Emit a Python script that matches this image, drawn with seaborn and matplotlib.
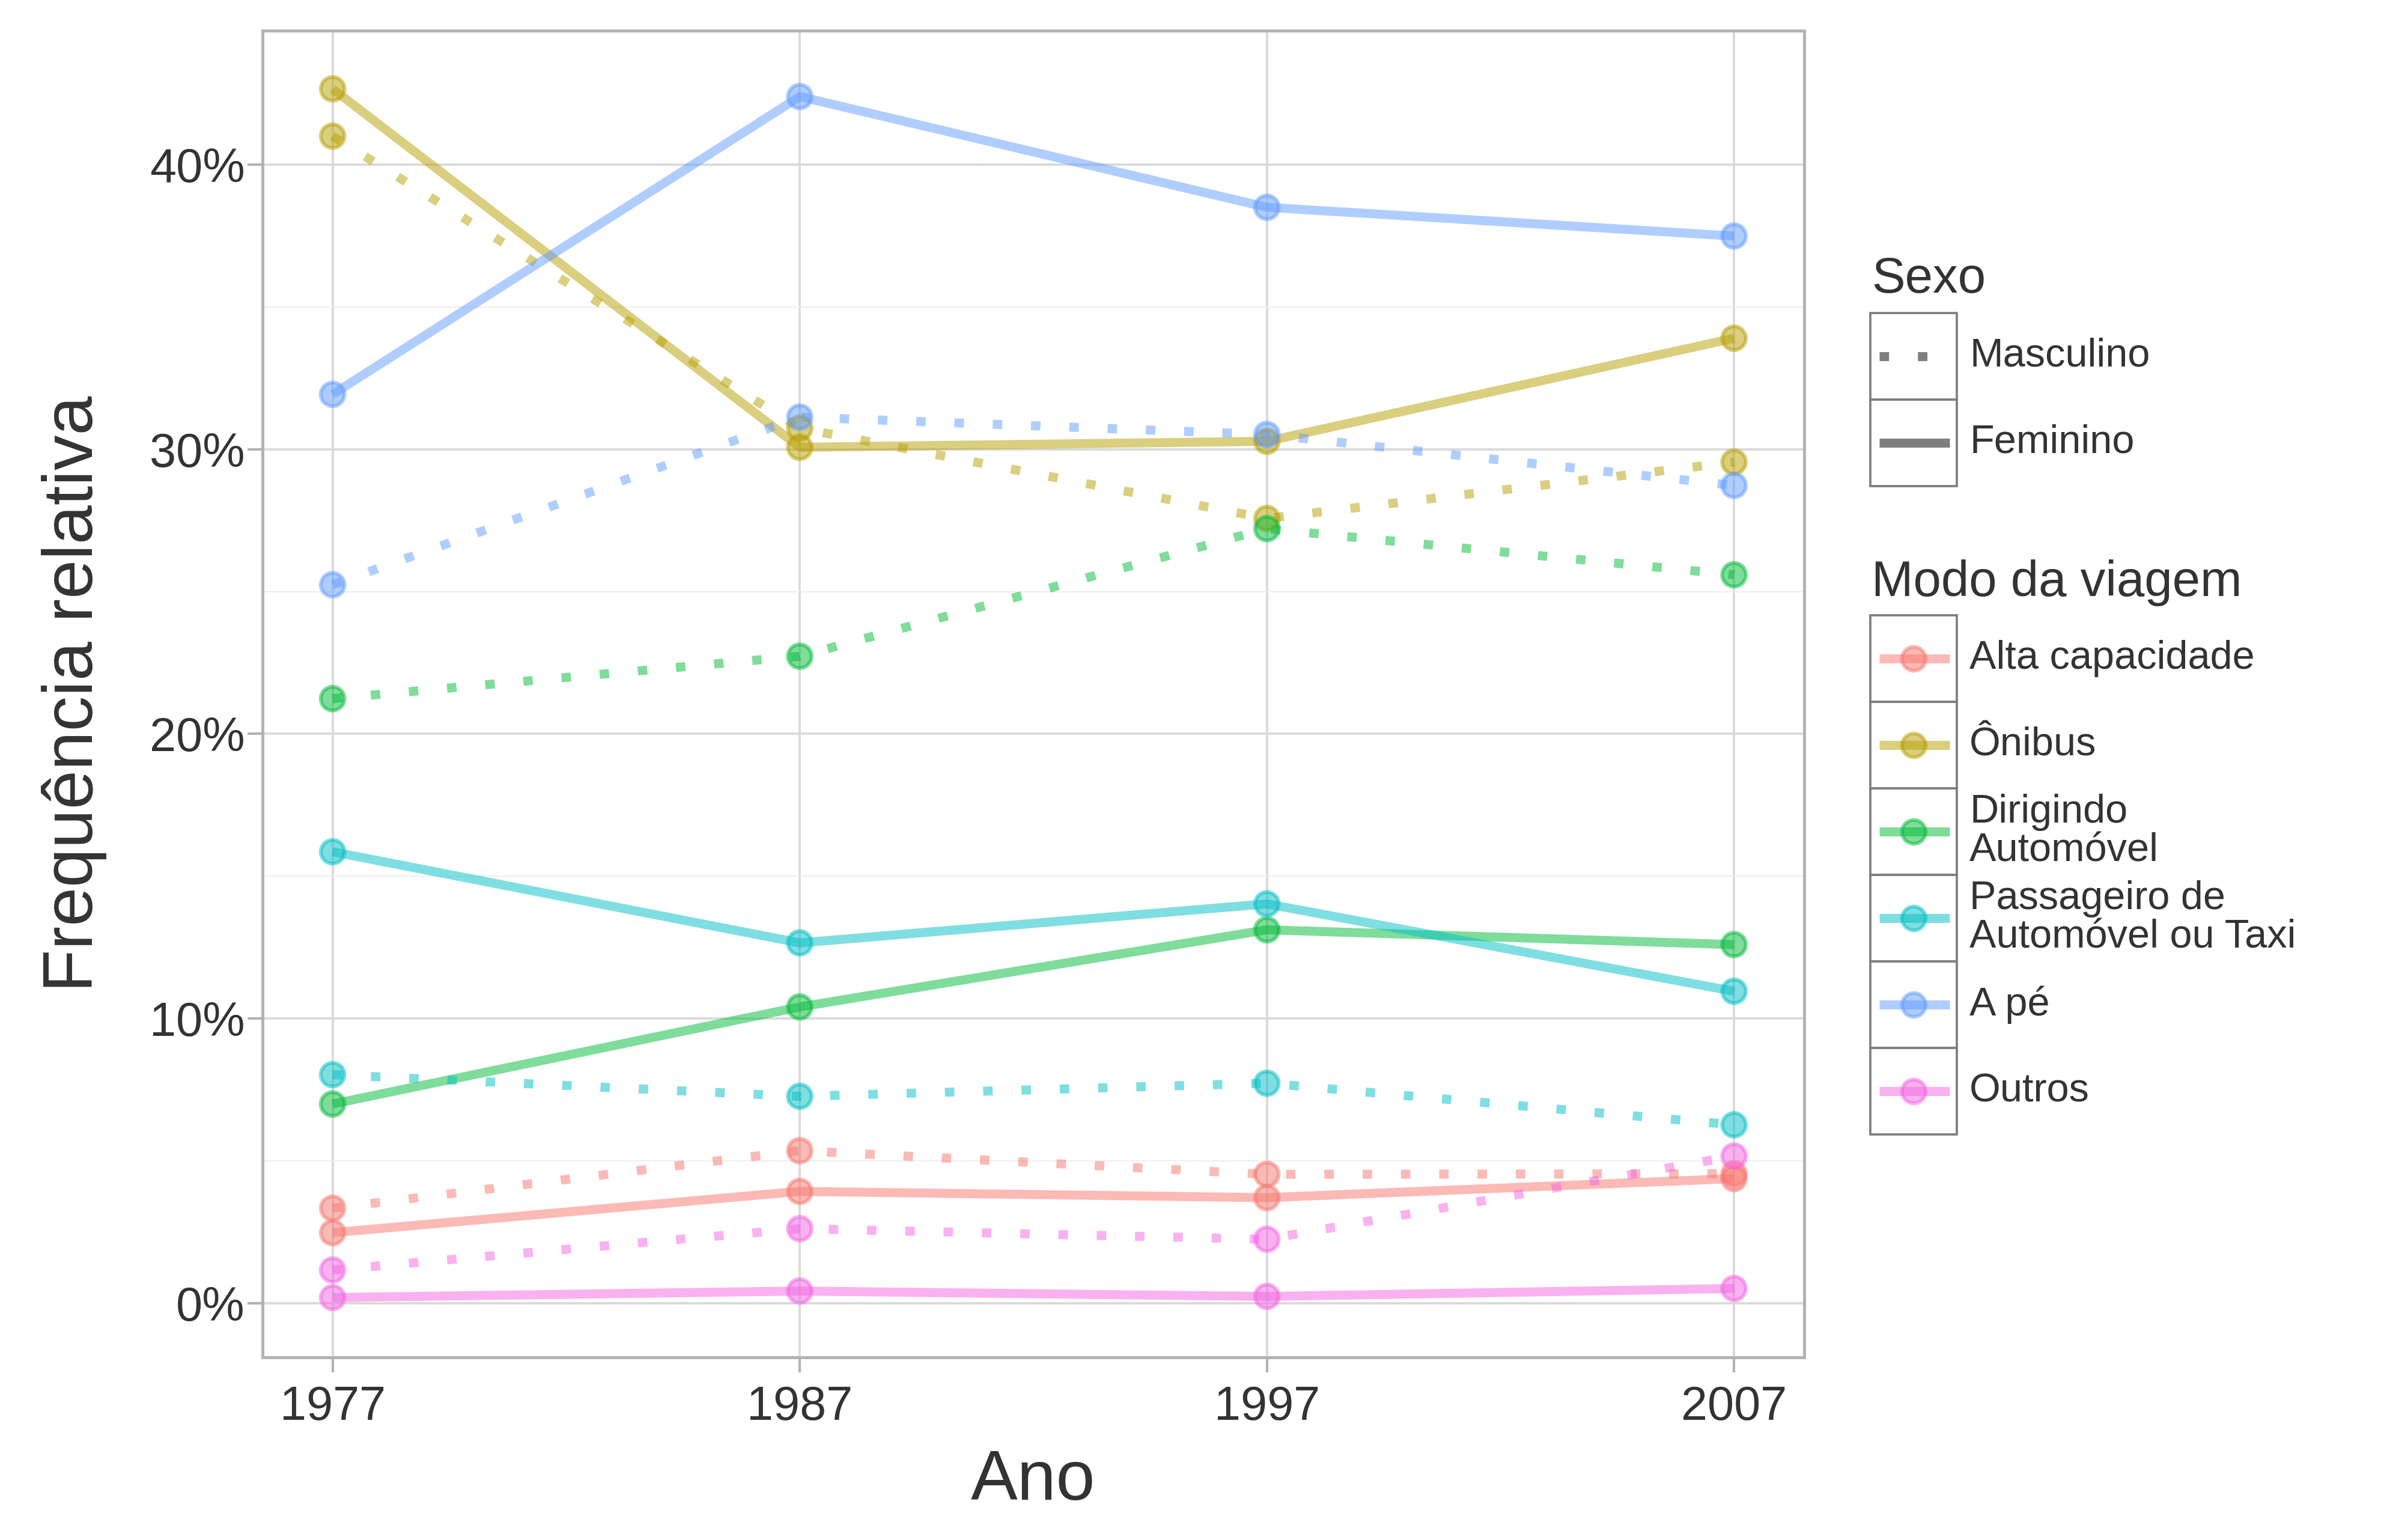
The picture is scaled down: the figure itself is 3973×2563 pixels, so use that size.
import matplotlib
matplotlib.use("Agg")
import matplotlib.pyplot as plt
import pandas as pd
import seaborn as sns
from matplotlib.patches import Rectangle
from matplotlib.ticker import FixedLocator, MultipleLocator, PercentFormatter

W, H, DPI = 3973, 2563, 300

ANOS = [1977, 1987, 1997, 2007]
SEXOS = ["Masculino", "Feminino"]
MODOS = [
    "Alta capacidade",
    "Ônibus",
    "Dirigindo Automóvel",
    "Passageiro de Automóvel ou Taxi",
    "A pé",
    "Outros",
]
MODO_ROTULOS = [
    "Alta capacidade",
    "Ônibus",
    "Dirigindo\nAutomóvel",
    "Passageiro de\nAutomóvel ou Taxi",
    "A pé",
    "Outros",
]

# frequência relativa (%) por ano
ALTA_MASC = [3.34, 5.36, 4.53, 4.55]
ALTA_FEM = [2.48, 3.93, 3.71, 4.38]
ONIBUS_MASC = [41.0, 30.74, 27.57, 29.55]
ONIBUS_FEM = [42.66, 30.07, 30.28, 33.9]
DIRIGINDO_MASC = [21.24, 22.73, 27.21, 25.59]
DIRIGINDO_FEM = [7.0, 10.41, 13.12, 12.6]
PASSAGEIRO_MASC = [8.03, 7.27, 7.73, 6.27]
PASSAGEIRO_FEM = [15.86, 12.66, 14.03, 10.96]
APE_MASC = [25.24, 31.13, 30.52, 28.73]
APE_FEM = [31.93, 42.39, 38.5, 37.49]
OUTROS_MASC = [1.17, 2.62, 2.25, 5.17]
OUTROS_FEM = [0.2, 0.43, 0.24, 0.52]

PALETTE = ["#F8766D", "#B79F00", "#00BA38", "#00BFC4", "#619CFF", "#F564E3"]

LW = 3.6          # line width (pt)
DOTS = (1.05, 3.2)  # dotted pattern, in line widths
TXT = "#333333"
BORDER = "#b3b3b3"

series = {
    ("Alta capacidade", "Masculino"): ALTA_MASC,
    ("Alta capacidade", "Feminino"): ALTA_FEM,
    ("Ônibus", "Masculino"): ONIBUS_MASC,
    ("Ônibus", "Feminino"): ONIBUS_FEM,
    ("Dirigindo Automóvel", "Masculino"): DIRIGINDO_MASC,
    ("Dirigindo Automóvel", "Feminino"): DIRIGINDO_FEM,
    ("Passageiro de Automóvel ou Taxi", "Masculino"): PASSAGEIRO_MASC,
    ("Passageiro de Automóvel ou Taxi", "Feminino"): PASSAGEIRO_FEM,
    ("A pé", "Masculino"): APE_MASC,
    ("A pé", "Feminino"): APE_FEM,
    ("Outros", "Masculino"): OUTROS_MASC,
    ("Outros", "Feminino"): OUTROS_FEM,
}
rows = []
for (modo, sexo), vals in series.items():
    for ano, v in zip(ANOS, vals):
        rows.append({"Ano": ano, "Freq": v, "Modo": modo, "Sexo": sexo})
df = pd.DataFrame(rows)

sns.set_theme(style="white")
plt.rcParams["font.family"] = ["Liberation Sans", "DejaVu Sans"]
plt.rcParams["text.color"] = TXT

fig = plt.figure(figsize=(W / DPI, H / DPI), dpi=DPI)
ax = fig.add_axes([0.110, 0.1186, 0.6458, 0.8614])

sns.lineplot(
    data=df, x="Ano", y="Freq", hue="Modo", style="Sexo",
    hue_order=MODOS, style_order=SEXOS, palette=PALETTE,
    dashes={"Masculino": DOTS, "Feminino": ""},
    lw=LW, alpha=0.5, estimator=None, legend=False, ax=ax, zorder=2,
)
for ln in ax.lines:
    ln.set_solid_capstyle("butt")
    ln.set_dash_capstyle("butt")
    ln.set_solid_joinstyle("round")

sns.scatterplot(
    data=df, x="Ano", y="Freq", hue="Modo", hue_order=MODOS, palette=PALETTE,
    s=90, alpha=0.5, linewidth=1.5, edgecolor="face", legend=False, ax=ax, zorder=3,
)

ax.set_xlim(1975.5, 2008.5)
ax.set_ylim(-1.9, 44.7)
ax.xaxis.set_major_locator(FixedLocator(ANOS))
ax.yaxis.set_major_locator(MultipleLocator(10))
ax.yaxis.set_minor_locator(MultipleLocator(5))
ax.yaxis.set_major_formatter(PercentFormatter(100, decimals=0))

ax.grid(which="major", color="#d9d9d9", lw=0.9)
ax.grid(which="minor", axis="y", color="#ededed", lw=0.45)
ax.set_axisbelow(True)
for sp in ax.spines.values():
    sp.set_color(BORDER)
    sp.set_linewidth(1.2)

ax.tick_params(axis="both", which="major", length=6, width=1.0, color=BORDER,
               labelsize=19, labelcolor=TXT)
ax.tick_params(axis="x", pad=5)
ax.tick_params(axis="y", pad=1)
ax.tick_params(which="minor", length=0)
ax.tick_params(bottom=True, left=True)

ax.set_xlabel("Ano", fontsize=28, color=TXT)
ax.set_ylabel("Frequência relativa", fontsize=28, color=TXT)
ax.xaxis.set_label_coords(0.5, -0.069)
ax.yaxis.set_label_coords(-0.101, 0.5)

# legend drawn by hand in figure pixels, ggplot style key boxes
lax = fig.add_axes([0, 0, 1, 1])
lax.set_xlim(0, W)
lax.set_ylim(H, 0)
lax.axis("off")

KX, KS = 3113, 144
LX = 3278

lax.text(KX + 2, 487, "Sexo", fontsize=20, va="baseline", color=TXT)
for i, sexo in enumerate(SEXOS):
    top = 521 + i * KS
    cy = top + KS / 2
    lax.add_patch(Rectangle((KX, top), KS, KS, fill=False, ec="#7f7f7f", lw=0.9))
    ls = (0, DOTS) if sexo == "Masculino" else "-"
    lax.plot([KX + 15, KX + KS - 12], [cy, cy], color="#7f7f7f", lw=LW, ls=ls,
             solid_capstyle="butt", dash_capstyle="butt")
    lax.text(LX, cy, sexo, fontsize=16, va="center", color=TXT)

lax.text(KX + 2, 992, "Modo da viagem", fontsize=20, va="baseline", color=TXT)
for i, (rotulo, cor) in enumerate(zip(MODO_ROTULOS, PALETTE)):
    top = 1024 + i * KS
    cy = top + KS / 2
    lax.add_patch(Rectangle((KX, top), KS, KS, fill=False, ec="#7f7f7f", lw=0.9))
    lax.plot([KX + 15, KX + KS - 12], [cy, cy], color=cor, lw=LW, alpha=0.5,
             solid_capstyle="butt")
    lax.scatter([KX + KS / 2], [cy], s=90, color=cor, alpha=0.5, lw=1.5,
                edgecolor="face", zorder=3)
    lax.text(LX, cy, rotulo, fontsize=16, va="center", color=TXT, linespacing=1.05)

fig.savefig("out.png", dpi=DPI)
